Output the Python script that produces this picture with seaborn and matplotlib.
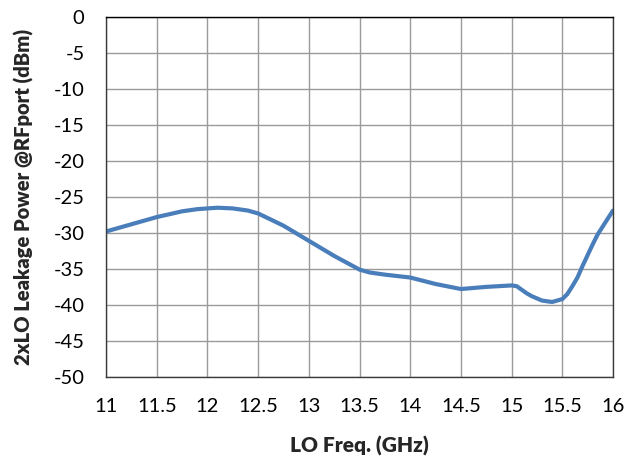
import matplotlib
matplotlib.use("Agg")
import matplotlib.pyplot as plt
import seaborn as sns

# LO frequency (GHz) and 2xLO leakage (dBm)
freq_ghz = [11, 11.25, 11.5, 11.75, 11.9, 12, 12.1, 12.25, 12.4, 12.5, 12.75,
            13, 13.25, 13.5, 13.6, 13.75, 14, 14.25, 14.5, 14.75, 15,
            15.05, 15.1, 15.15, 15.2, 15.3, 15.4, 15.5, 15.55, 15.6, 15.65,
            15.7, 15.75, 15.8, 15.85, 15.9, 15.95, 16]
leak_dbm = [-29.8, -28.8, -27.8, -27.0, -26.7, -26.6, -26.5, -26.6, -26.9, -27.3, -29.0,
            -31.1, -33.2, -35.1, -35.5, -35.8, -36.2, -37.1, -37.8, -37.5, -37.3,
            -37.4, -37.9, -38.4, -38.8, -39.4, -39.6, -39.2, -38.5, -37.4, -36.2,
            -34.6, -33.1, -31.6, -30.2, -29.1, -28.0, -26.9]

x_ticks = [11, 11.5, 12, 12.5, 13, 13.5, 14, 14.5, 15, 15.5, 16]
x_labels = ["11", "11.5", "12", "12.5", "13", "13.5", "14", "14.5", "15", "15.5", "16"]
y_ticks = list(range(-50, 1, 5))

sns.set_style("white")
plt.rcParams['font.family'] = ['Lato', 'DejaVu Sans']
plt.rcParams['axes.unicode_minus'] = False

fig = plt.figure(figsize=(6.28, 4.59), dpi=100)
ax = fig.add_axes([0.169, 0.179, 0.807, 0.784])

sns.lineplot(x=freq_ghz, y=leak_dbm, ax=ax, color='#4A7EBB', linewidth=3.0,
             solid_capstyle='round', solid_joinstyle='round')

ax.set_xlim(11, 16)
ax.set_ylim(-50, 0)
ax.set_xticks(x_ticks)
ax.set_xticklabels(x_labels)
ax.set_yticks(y_ticks)
ax.grid(True, color='#9A9A9A', linewidth=1.0)
ax.set_axisbelow(True)

for s in ax.spines.values():
    s.set_color('#3A3A3A')
    s.set_linewidth(1.0)
ax.spines['top'].set_color('#000000')

ax.tick_params(axis='both', direction='out', length=4.5, width=1, color='#808080',
               labelsize=14.5, labelcolor='#000000')
ax.tick_params(axis='x', pad=11)
ax.tick_params(axis='y', pad=11)

ax.set_xlabel('LO Freq. (GHz)', fontsize=15, fontweight='heavy', labelpad=15)
ax.set_ylabel('2xLO Leakage Power @RFport (dBm)', fontsize=14.5, fontweight='heavy', labelpad=14)

fig.savefig('out.png', dpi=100)
